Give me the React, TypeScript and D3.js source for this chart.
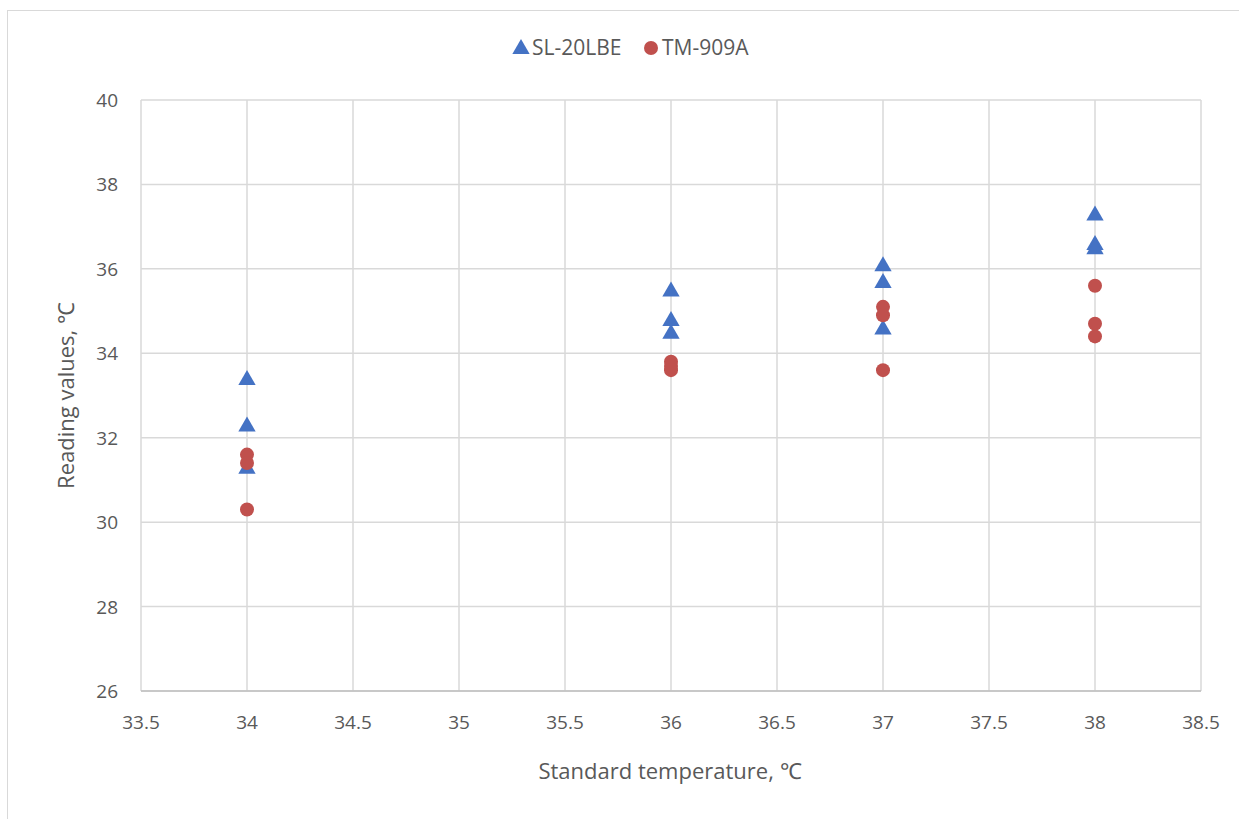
import React from "react";
import * as d3 from "d3";

// Standard temperature settings (°C) and readings from each thermometer
const slX = [34, 34, 34, 36, 36, 36, 37, 37, 37, 38, 38, 38];
const slY = [33.4, 32.3, 31.3, 35.5, 34.8, 34.5, 36.1, 35.7, 34.6, 37.3, 36.6, 36.5];
const tmX = [34, 34, 34, 36, 36, 36, 37, 37, 37, 38, 38, 38];
const tmY = [31.6, 31.4, 30.3, 33.8, 33.7, 33.6, 35.1, 34.9, 33.6, 35.6, 34.7, 34.4];
const xTicks = [33.5, 34, 34.5, 35, 35.5, 36, 36.5, 37, 37.5, 38, 38.5];
const yTicks = [26, 28, 30, 32, 34, 36, 38, 40];
const seriesNames = ["SL-20LBE", "TM-909A"];

const W = 1239;
const H = 819;
const left = 141, right = 1201, top = 100, bottom = 691;
const blue = "#4472C4";
const red = "#C0504D";
const font = "'Open Sans', 'Liberation Sans', sans-serif";
const textColor = "#595959";

export default function App() {
  const x = d3.scaleLinear().domain([33.5, 38.5]).range([left, right]);
  const y = d3.scaleLinear().domain([26, 40]).range([bottom, top]);
  const tri = d3.symbol().type(d3.symbolTriangle).size(130);

  return (
    <svg width={W} height={H} style={{ position: "absolute", left: 0, top: 0 }}>
      <rect x={0} y={0} width={W} height={H} fill="#fff" />
      <rect x={7.5} y={10.5} width={W + 20} height={H + 20} fill="none" stroke="#d9d9d9" />
      {xTicks.map((t) => (
        <line key={"gx" + t} x1={x(t)} x2={x(t)} y1={top} y2={bottom} stroke="#d9d9d9" strokeWidth={1.5} />
      ))}
      {yTicks.map((t) => (
        <line key={"gy" + t} x1={left} x2={right} y1={y(t)} y2={y(t)} stroke="#d9d9d9" strokeWidth={1.5} />
      ))}
      <line x1={left} x2={right} y1={bottom} y2={bottom} stroke="#bfbfbf" strokeWidth={1.5} />
      {xTicks.map((t) => (
        <text key={"tx" + t} x={x(t)} y={bottom + 38} textAnchor="middle" fontFamily={font} fontSize={19} fill={textColor}>
          {t}
        </text>
      ))}
      {yTicks.map((t) => (
        <text key={"ty" + t} x={118} y={y(t) + 7} textAnchor="end" fontFamily={font} fontSize={19} fill={textColor}>
          {t}
        </text>
      ))}
      <text x={670} y={779} textAnchor="middle" fontFamily={font} fontSize={22} fill={textColor}>
        Standard temperature, ℃
      </text>
      <text transform={`translate(74, ${(top + bottom) / 2}) rotate(-90)`} textAnchor="middle" fontFamily={font} fontSize={22} fill={textColor}>
        Reading values, ℃
      </text>
      {slX.map((v, i) => (
        <path key={"s" + i} d={tri() as string} transform={`translate(${x(v)}, ${y(slY[i]) + 1.5})`} fill={blue} />
      ))}
      {tmX.map((v, i) => (
        <circle key={"c" + i} cx={x(v)} cy={y(tmY[i])} r={7} fill={red} />
      ))}
      <g>
        <path d={tri() as string} transform="translate(521, 49)" fill={blue} />
        <text x={532} y={55} fontFamily={font} fontSize={21} fill={textColor}>{seriesNames[0]}</text>
        <circle cx={651} cy={48} r={7} fill={red} />
        <text x={662} y={55} fontFamily={font} fontSize={21} fill={textColor}>{seriesNames[1]}</text>
      </g>
    </svg>
  );
}
